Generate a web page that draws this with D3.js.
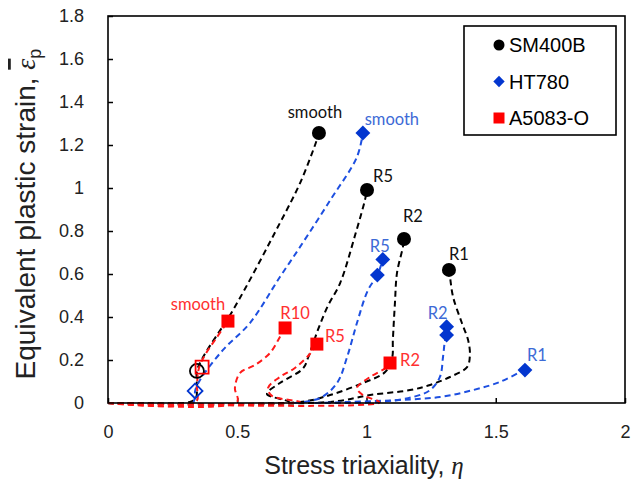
<!DOCTYPE html>
<html>
<head>
<meta charset="utf-8">
<script src="https://cdn.jsdelivr.net/npm/d3@7"></script>
<style>
  html, body { margin: 0; padding: 0; background: #fff; }
  svg { display: block; }
</style>
</head>
<body>
<svg id="chart" width="632" height="483"></svg>
<script>
// ---- data: stress triaxiality (eta) vs equivalent plastic strain ----
const materials = ["SM400B", "HT780", "A5083-O"];
const xTicks = [0, 0.5, 1, 1.5, 2];
const yTicks = [0, 0.2, 0.4, 0.6, 0.8, 1, 1.2, 1.4, 1.6, 1.8];

// SM400B (black) – specimen names, fracture points, loading paths
const smSpecimens = ["smooth", "R5", "R2", "R1"];
const smFracture = [[[0.816, 1.256]], [[1.002, 0.991]], [[1.145, 0.763]], [[1.319, 0.619]]];
const smPaths = [
  [[0, 0], [0.317, 0.005], [0.340, 0.023], [0.344, 0.084], [0.344, 0.149], [0.368, 0.214], [0.484, 0.433], [0.665, 0.837], [0.743, 1.023], [0.801, 1.2], [0.816, 1.256]],
  [[0, 0], [0.70, 0.005], [0.615, 0.042], [0.665, 0.093], [0.754, 0.16], [0.775, 0.214], [0.812, 0.34], [0.85, 0.45], [0.898, 0.558], [0.956, 0.781], [0.994, 0.944], [1.002, 0.991]],
  [[0, 0], [0.743, 0.005], [0.859, 0.037], [0.986, 0.093], [1.072, 0.144], [1.099, 0.209], [1.102, 0.293], [1.110, 0.465], [1.118, 0.605], [1.141, 0.726], [1.145, 0.763]],
  [[0, 0], [0.859, 0.005], [1.014, 0.037], [1.168, 0.06], [1.246, 0.084], [1.323, 0.121], [1.389, 0.167], [1.400, 0.223], [1.393, 0.293], [1.369, 0.372], [1.335, 0.493], [1.323, 0.586], [1.319, 0.619]]
];
const smOnset = [0.344, 0.149];

// HT780 (blue)
const htSpecimens = ["smooth", "R5", "R2", "R1"];
const htFracture = [[[0.986, 1.256]], [[1.063, 0.668], [1.042, 0.595]], [[1.31, 0.355], [1.31, 0.316]], [[1.613, 0.153]]];
const htPaths = [
  [[0.33, 0], [0.337, 0.03], [0.337, 0.056], [0.356, 0.107], [0.445, 0.247], [0.549, 0.372], [0.665, 0.586], [0.743, 0.726], [0.86, 0.944], [0.963, 1.144], [0.986, 1.256]],
  [[0.72, 0], [0.820, 0.023], [0.886, 0.093], [0.925, 0.214], [0.963, 0.372], [1.006, 0.526], [1.042, 0.595], [1.063, 0.668]],
  [[0.80, 0], [1.052, 0.005], [1.180, 0.028], [1.246, 0.06], [1.284, 0.121], [1.296, 0.214], [1.304, 0.293], [1.31, 0.316], [1.31, 0.355]],
  [[0.80, 0], [1.130, 0.014], [1.284, 0.028], [1.412, 0.06], [1.516, 0.098], [1.605, 0.15], [1.613, 0.153]]
];
const htOnset = [0.337, 0.056];

// A5083-O (red)
const alSpecimens = ["smooth", "R10", "R5", "R2"];
const alFracture = [[[0.464, 0.381]], [[0.685, 0.349]], [[0.808, 0.274]], [[1.091, 0.186]]];
const alPaths = [
  [[0, 0], [0.34, 0.005], [0.344, 0.084], [0.352, 0.163], [0.375, 0.223], [0.414, 0.293], [0.464, 0.381]],
  [[0, 0], [0.499, 0.005], [0.491, 0.07], [0.511, 0.14], [0.569, 0.177], [0.627, 0.233], [0.665, 0.307], [0.685, 0.349]],
  [[0, 0], [0.743, 0.005], [0.634, 0.033], [0.619, 0.07], [0.665, 0.121], [0.723, 0.163], [0.781, 0.228], [0.808, 0.274]],
  [[0, 0], [1.05, 0.003], [0.986, 0.037], [0.963, 0.07], [1.014, 0.121], [1.079, 0.167], [1.091, 0.186]]
];
const alOnset = [0.364, 0.167];

// ---- styling / layout ----
const style = {
  SM400B: { line: "#000000", mark: "#000000", text: "#111111", shape: "circle",
            labelOffsets: [[-4, -21], [16, -14], [9, -23], [10, -16]] },
  HT780: { line: "#1d4fe0", mark: "#0336cf", text: "#3d6ad6", shape: "diamond",
           labelOffsets: [[29, -14], [-3, -13], [-9, -14], [12, -15]] },
  "A5083-O": { line: "#ff1a1a", mark: "#ff0000", text: "#ff3030", shape: "square",
               labelOffsets: [[-30, -17], [10, -15], [18, -8], [20, -3]] }
};

const series = [
  { name: materials[0], specimens: smSpecimens, fracture: smFracture, paths: smPaths, onset: smOnset },
  { name: materials[1], specimens: htSpecimens, fracture: htFracture, paths: htPaths, onset: htOnset },
  { name: materials[2], specimens: alSpecimens, fracture: alFracture, paths: alPaths, onset: alOnset }
];

const plot = { left: 108, right: 625, top: 16, bottom: 403 };
const svg = d3.select("#chart");

const x = d3.scaleLinear().domain([0, 2]).range([plot.left, plot.right]);
const y = d3.scaleLinear().domain([0, 1.8]).range([plot.bottom, plot.top]);

const fontSans = "Arial, 'Liberation Sans', sans-serif";
const fontLabel = "Lato, 'Open Sans', sans-serif";

// marker path generators
function markerPath(shape, size) {
  if (shape === "circle") return d3.symbol(d3.symbolCircle, Math.PI * size * size / 4)();
  return d3.symbol(d3.symbolSquare, size * size)();
}
function markerTransform(shape, px, py) {
  return `translate(${px},${py})` + (shape === "diamond" ? " rotate(45)" : "");
}
const markSize = { circle: 14, diamond: 10.5, square: 13 };

// ---- axes ----
const yAxis = d3.axisLeft(y).tickValues(yTicks).tickSize(-5).tickPadding(24)
  .tickFormat(d => d3.format("~g")(d));
const xAxis = d3.axisBottom(x).tickValues(xTicks).tickSize(-5).tickPadding(22)
  .tickFormat(d => d3.format("~g")(d));

const gy = svg.append("g").attr("transform", `translate(${plot.left},0)`).call(yAxis);
const gx = svg.append("g").attr("transform", `translate(0,${plot.bottom})`).call(xAxis);
[gx, gy].forEach(g => {
  g.select(".domain").remove();
  g.selectAll(".tick line").attr("stroke", "#000").attr("stroke-width", 1.5);
  g.selectAll(".tick text").attr("fill", "#222").attr("font-family", fontSans).attr("font-size", 18);
});

// ---- loading paths ----
const line = d3.line().x(d => x(d[0])).y(d => y(d[1])).curve(d3.curveCatmullRom.alpha(0.5));
const linesG = svg.append("g");
series.forEach(s => {
  const st = style[s.name];
  s.paths.forEach(p => {
    linesG.append("path").attr("d", line(p))
      .attr("fill", "none").attr("stroke", st.line)
      .attr("stroke-width", 2).attr("stroke-dasharray", "6,4");
  });
});

// ---- plot frame ----
svg.append("rect")
  .attr("x", plot.left).attr("y", plot.top)
  .attr("width", plot.right - plot.left).attr("height", plot.bottom - plot.top)
  .attr("fill", "none").attr("stroke", "#000").attr("stroke-width", 1.6);

// ---- onset (open) markers ----
const marksG = svg.append("g");
series.forEach(s => {
  const st = style[s.name];
  marksG.append("path")
    .attr("d", markerPath(st.shape, markSize[st.shape]))
    .attr("transform", markerTransform(st.shape, x(s.onset[0]), y(s.onset[1])))
    .attr("fill", "none").attr("stroke", st.mark).attr("stroke-width", 1.8);
});

// ---- fracture (filled) markers and specimen labels ----
series.forEach(s => {
  const st = style[s.name];
  s.fracture.forEach((pts, i) => {
    pts.forEach(pt => {
      marksG.append("path")
        .attr("d", markerPath(st.shape, markSize[st.shape]))
        .attr("transform", markerTransform(st.shape, x(pt[0]), y(pt[1])))
        .attr("fill", st.mark);
    });
    const off = st.labelOffsets[i];
    marksG.append("text")
      .attr("x", x(pts[0][0]) + off[0]).attr("y", y(pts[0][1]) + off[1])
      .attr("text-anchor", "middle").attr("dominant-baseline", "central")
      .attr("font-family", fontLabel).attr("font-size", 16.5)
      .attr("fill", st.text).text(s.specimens[i]);
  });
});

// ---- legend ----
const legend = svg.append("g").attr("transform", "translate(464,26)");
legend.append("rect").attr("width", 152).attr("height", 109)
  .attr("fill", "#fff").attr("stroke", "#000").attr("stroke-width", 1.6);
const legendSize = { circle: 11, diamond: 8, square: 11 };
series.forEach((s, i) => {
  const st = style[s.name];
  const cy = 19 + i * 36.5;
  legend.append("path")
    .attr("d", markerPath(st.shape, legendSize[st.shape]))
    .attr("transform", markerTransform(st.shape, 35, cy))
    .attr("fill", st.mark);
  legend.append("text").attr("x", 45).attr("y", cy)
    .attr("dominant-baseline", "central")
    .attr("font-family", fontSans).attr("font-size", 20).attr("fill", "#000")
    .text(s.name);
});

// ---- axis titles ----
svg.append("text")
  .attr("x", 364).attr("y", 474)
  .attr("text-anchor", "middle")
  .attr("font-family", fontSans).attr("font-size", 25).attr("fill", "#222")
  .call(t => {
    t.append("tspan").text("Stress triaxiality, ");
    t.append("tspan").attr("font-family", "'Liberation Serif', 'DejaVu Serif', serif")
      .attr("font-style", "italic").text("η");
  });

svg.append("text")
  .attr("transform", "translate(35,214) rotate(-90)")
  .attr("text-anchor", "middle")
  .attr("font-family", fontSans).attr("font-size", 28).attr("fill", "#222")
  .call(t => {
    t.append("tspan").text("Equivalent plastic strain, ");
    t.append("tspan").attr("font-family", "'Liberation Serif', 'DejaVu Serif', serif")
      .attr("font-style", "italic").style("text-decoration", "overline").text("ε");
    t.append("tspan").attr("font-size", 18).attr("dy", 6).text("p");
  });
</script>
</body>
</html>
